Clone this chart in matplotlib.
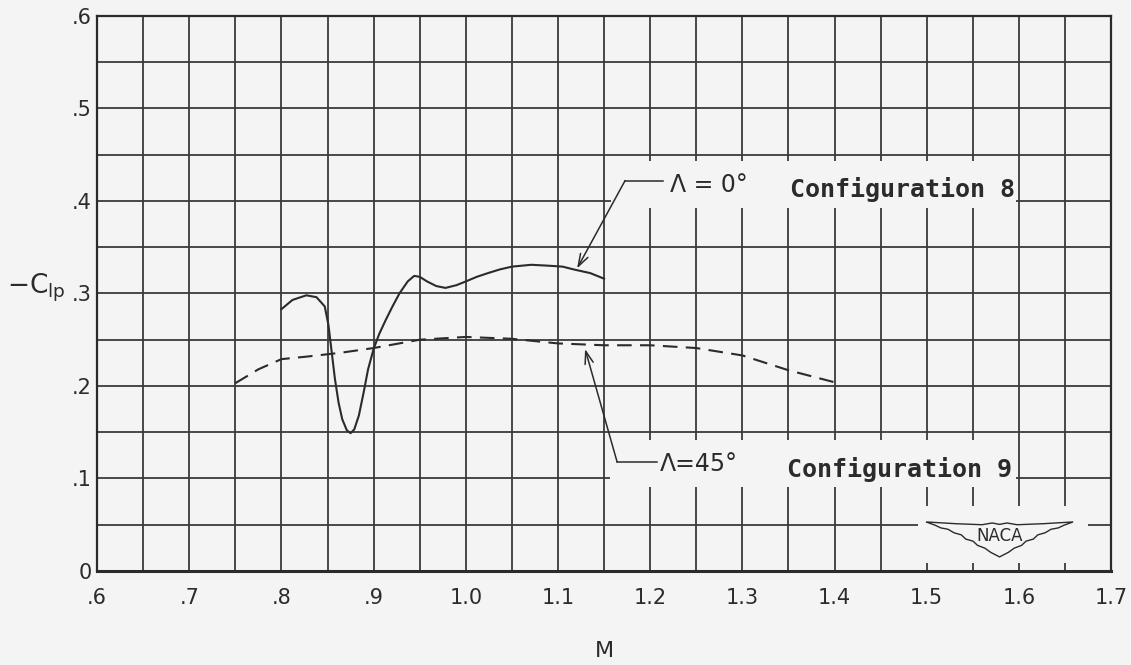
import matplotlib
matplotlib.use("Agg")
import matplotlib.pyplot as plt
from matplotlib.patches import Rectangle, Polygon
import numpy as np

# ---- data ----
mach_0 = [0.800, 0.812, 0.827, 0.838, 0.847, 0.851, 0.855, 0.858, 0.862, 0.866,
          0.871, 0.875, 0.879, 0.884, 0.889, 0.894, 0.900, 0.906, 0.913, 0.920,
          0.928, 0.937, 0.944, 0.950, 0.958, 0.968, 0.978, 0.990, 1.000, 1.012,
          1.024, 1.037, 1.050, 1.071, 1.090, 1.105, 1.117, 1.135, 1.150]
clp_0 = [0.283, 0.293, 0.298, 0.296, 0.286, 0.266, 0.233, 0.208, 0.182, 0.164,
         0.152, 0.149, 0.153, 0.168, 0.192, 0.218, 0.240, 0.256, 0.271, 0.285,
         0.300, 0.313, 0.319, 0.318, 0.313, 0.308, 0.306, 0.309, 0.313, 0.318,
         0.322, 0.326, 0.329, 0.331, 0.330, 0.329, 0.326, 0.322, 0.316]

mach_45 = [0.750, 0.775, 0.800, 0.830, 0.865, 0.900, 0.950, 1.000, 1.050, 1.080,
           1.100, 1.150, 1.200, 1.250, 1.300, 1.350, 1.400]
clp_45 = [0.203, 0.218, 0.229, 0.232, 0.236, 0.241, 0.250, 0.253, 0.251, 0.248,
          0.246, 0.244, 0.244, 0.241, 0.233, 0.217, 0.204]

x_ticks = [0.6, 0.7, 0.8, 0.9, 1.0, 1.1, 1.2, 1.3, 1.4, 1.5, 1.6, 1.7]
x_tick_labels = [".6", ".7", ".8", ".9", "1.0", "1.1", "1.2", "1.3", "1.4", "1.5", "1.6", "1.7"]
y_ticks = [0.0, 0.1, 0.2, 0.3, 0.4, 0.5, 0.6]
y_tick_labels = ["0", ".1", ".2", ".3", ".4", ".5", ".6"]

sweep_0 = "\u039b = 0\u00b0"
config_0 = "Configuration 8"
sweep_45 = "\u039b=45\u00b0"
config_45 = "Configuration 9"

# ---- styling ----
BG = "#f4f4f4"
INK = "#2b2b2b"
GRID = "#3a3a3a"

plt.rcParams['font.family'] = ['DejaVu Sans']
fig = plt.figure(figsize=(11.31, 6.65), dpi=100, facecolor=BG)
ax = fig.add_axes([0.0858, 0.1414, 0.8966, 0.8346], facecolor=BG)

ax.set_xlim(0.6, 1.7)
ax.set_ylim(0.0, 0.6)

# grid every 0.05
ax.set_xticks(np.round(np.arange(0.6, 1.7001, 0.05), 3), minor=True)
ax.set_yticks(np.round(np.arange(0.0, 0.6001, 0.05), 3), minor=True)
ax.set_xticks(x_ticks)
ax.set_xticklabels(x_tick_labels)
ax.set_yticks(y_ticks)
ax.set_yticklabels(y_tick_labels)
ax.grid(True, which='both', color=GRID, linewidth=1.3, zorder=0)
ax.set_axisbelow(True)
ax.tick_params(which='both', length=0, labelsize=15, colors=INK)
ax.tick_params(axis='x', pad=12)
ax.tick_params(axis='y', pad=4)
for s in ax.spines.values():
    s.set_color(INK)
    s.set_linewidth(1.6)
ax.spines['bottom'].set_linewidth(2.2)

# background patches that interrupt the grid behind labels / logo
ax.add_patch(Rectangle((1.158, 0.392), 0.439, 0.051, facecolor=BG, edgecolor='none', zorder=1))
ax.add_patch(Rectangle((1.156, 0.091), 0.441, 0.051, facecolor=BG, edgecolor='none', zorder=1))
ax.add_patch(Rectangle((1.49, 0.009), 0.185, 0.061, facecolor=BG, edgecolor='none', zorder=1))

# curves
ax.plot(mach_0, clp_0, color=INK, linewidth=1.5, zorder=3, solid_joinstyle='round')
ax.plot(mach_45, clp_45, color=INK, linewidth=1.5, linestyle=(0, (7, 4)), zorder=3)

# annotations
ax.text(1.2216, 0.410, sweep_0, fontsize=17, color=INK, va='baseline', ha='left', zorder=4)
ax.text(1.3518, 0.404, config_0, fontsize=18, color=INK, va='baseline', ha='left',
        family='DejaVu Sans Mono', fontweight='bold', zorder=4)
ax.plot([1.1728, 1.214], [0.422, 0.422], color=INK, linewidth=1.1, zorder=4)
ax.annotate('', xy=(1.1207, 0.327), xytext=(1.1728, 0.422),
            arrowprops=dict(arrowstyle='->,head_length=0.9,head_width=0.3', color=INK,
                            lw=1.1, shrinkA=0, shrinkB=0), zorder=4)

ax.text(1.2108, 0.1076, sweep_45, fontsize=17, color=INK, va='baseline', ha='left', zorder=4)
ax.text(1.3485, 0.102, config_45, fontsize=18, color=INK, va='baseline', ha='left',
        family='DejaVu Sans Mono', fontweight='bold', zorder=4)
ax.plot([1.1641, 1.2075], [0.118, 0.118], color=INK, linewidth=1.1, zorder=4)
ax.annotate('', xy=(1.1294, 0.240), xytext=(1.1641, 0.118),
            arrowprops=dict(arrowstyle='->,head_length=0.9,head_width=0.3', color=INK,
                            lw=1.1, shrinkA=0, shrinkB=0), zorder=4)

# NACA wing logo (decoration, axes fraction coords)
cx, cy, w, h = 0.890, 0.060, 0.145, 0.063
wing = [(-0.50, 0.45), (-0.30, 0.40), (-0.12, 0.37), (-0.05, 0.42), (0.0, 0.38),
        (0.05, 0.42), (0.12, 0.37), (0.30, 0.40), (0.50, 0.45),
        (0.44, 0.36), (0.40, 0.28), (0.35, 0.24), (0.31, 0.14), (0.26, 0.08),
        (0.23, -0.04), (0.18, -0.10), (0.15, -0.22), (0.10, -0.30), (0.06, -0.42),
        (0.0, -0.55),
        (-0.06, -0.42), (-0.10, -0.30), (-0.15, -0.22), (-0.18, -0.10), (-0.23, -0.04),
        (-0.26, 0.08), (-0.31, 0.14), (-0.35, 0.24), (-0.40, 0.28), (-0.44, 0.36)]
wing_pts = [(cx + px * w, cy + py * h) for px, py in wing]
ax.add_patch(Polygon(wing_pts, closed=True, transform=ax.transAxes, facecolor=BG,
                     edgecolor=INK, linewidth=1.0, zorder=4))
ax.text(cx, cy + 0.003, "NACA", transform=ax.transAxes, fontsize=12, color=INK,
        ha='center', va='center', zorder=5)

ax.set_xlabel("M", fontsize=16, color=INK, labelpad=24)
fig.text(0.006, 1 - 288 / 665, r"$-\mathrm{C}_{\mathrm{lp}}$", fontsize=19, color=INK,
         ha='left', va='center')

fig.savefig("out.png", dpi=100, facecolor=BG)
